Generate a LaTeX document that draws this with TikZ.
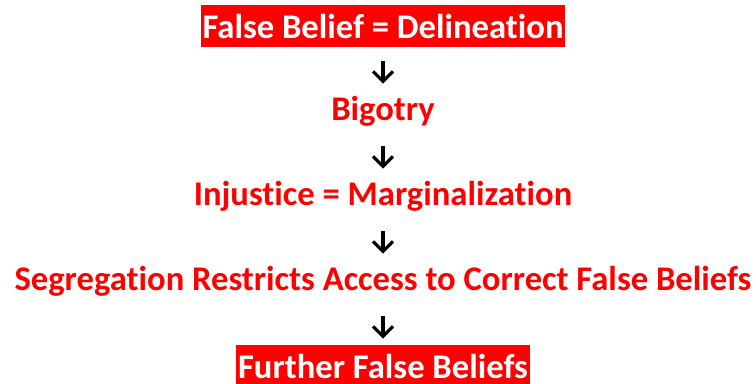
\documentclass[tikz,border=0pt]{standalone}
\usepackage{fontspec}
\setmainfont{Carlito}[Ligatures=NoCommon]
\usetikzlibrary{arrows.meta,positioning}
\definecolor{flowred}{HTML}{FF0000}
\tikzset{
  every picture/.style={font=\bfseries\fontsize{17.3}{20}\selectfont, line join=round},
  stage/.style={text=flowred, minimum height=21pt, inner xsep=1pt, inner ysep=0pt},
  banner/.style={stage, fill=flowred, text=white},
  flow/.style={-{Straight Barb[length=5pt,width=10pt,line width=1.6pt]}, line width=1.6pt, shorten <=7pt, shorten >=3pt},
}

\begin{document}
\begin{tikzpicture}[node distance=21.1pt]
\useasboundingbox (0,0) rectangle (378pt,-192pt);
\node[banner] (belief) at (191.5pt,-13pt) {False Belief = Delineation};
\node[stage, below=of belief] (bigotry) {Bigotry};
\node[stage, below=of bigotry] (injustice) {Injustice = Marginalization};
\node[stage, below=of injustice] (segregation) {Segregation Restricts Access to Correct False Beliefs};
\node[banner, below=of segregation] (further) {Further False Beliefs};
\draw[flow] (belief) -- (bigotry);
\draw[flow] (bigotry) -- (injustice);
\draw[flow] (injustice) -- (segregation);
\draw[flow] (segregation) -- (further);
\end{tikzpicture}
\end{document}
